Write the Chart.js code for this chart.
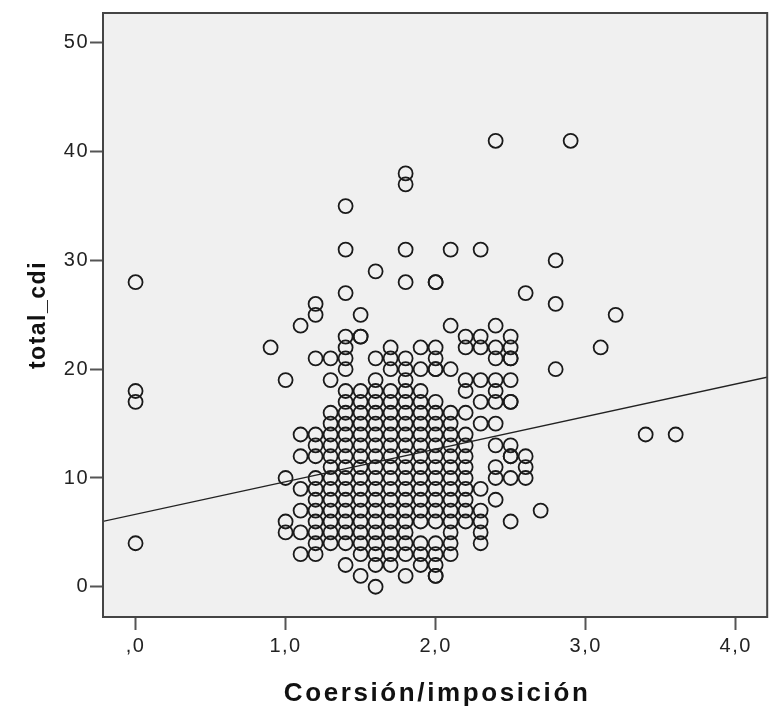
<!DOCTYPE html>
<html>
<head>
<meta charset="utf-8">
<script src="https://cdn.jsdelivr.net/npm/chart.js@4.4.1/dist/chart.umd.min.js"></script>
<style>
  html, body { margin: 0; padding: 0; background: #fff; overflow: hidden; }
  canvas { display: block; }
</style>
</head>
<body>
<canvas id="chart" width="776" height="709"></canvas>
<script>
// coersion score of each column of cases, and the total_cdi values observed there
const COERSION = [0.0, 0.9, 1.0, 1.1, 1.2, 1.3, 1.4, 1.5, 1.6, 1.7, 1.8, 1.9, 2.0, 2.1, 2.2, 2.3, 2.4, 2.5, 2.6, 2.7, 2.8, 2.9, 3.1, 3.2, 3.4, 3.6];
const TOTAL_CDI = [
  [28, 18, 17, 4],
  [22],
  [19, 10, 6, 5],
  [24, 14, 12, 9, 7, 5, 3],
  [26, 25, 21, 14, 13, 12, 10, 9, 8, 7, 6, 5, 4, 3],
  [21, 19, 16, 15, 14, 13, 12, 11, 10, 9, 8, 7, 6, 5, 4],
  [35, 31, 27, 23, 22, 21, 20, 18, 17, 16, 15, 14, 13, 12, 11, 10, 9, 8, 7, 6, 5, 4, 2],
  [25, 23, 23, 18, 17, 16, 15, 14, 13, 12, 11, 10, 9, 8, 7, 6, 5, 4, 3, 1],
  [29, 21, 19, 18, 17, 16, 15, 14, 13, 12, 11, 10, 9, 8, 7, 6, 5, 4, 3, 2, 0],
  [22, 21, 20, 18, 17, 16, 15, 14, 13, 12, 11, 10, 9, 8, 7, 6, 5, 4, 3, 2],
  [38, 37, 31, 28, 21, 20, 19, 18, 17, 16, 15, 14, 13, 12, 11, 10, 9, 8, 7, 6, 5, 4, 3, 1],
  [22, 20, 18, 17, 16, 15, 14, 13, 12, 11, 10, 9, 8, 7, 6, 4, 3, 2],
  [28, 28, 22, 21, 20, 20, 17, 16, 15, 14, 13, 12, 11, 10, 9, 8, 7, 6, 4, 3, 2, 1, 1],
  [31, 24, 20, 16, 15, 14, 13, 12, 11, 10, 9, 8, 7, 6, 5, 4, 3],
  [23, 22, 19, 18, 16, 14, 13, 12, 11, 10, 9, 8, 7, 6],
  [31, 23, 22, 19, 17, 15, 9, 7, 6, 5, 4],
  [41, 24, 22, 21, 19, 18, 17, 15, 13, 11, 10, 8],
  [23, 22, 21, 21, 19, 17, 17, 13, 12, 12, 10, 6],
  [27, 12, 11, 10],
  [7],
  [30, 26, 20],
  [41],
  [22],
  [25],
  [14],
  [14]
];

// fitted linear trend, taken at both ends of the x range
const FIT_X = [-0.22, 4.22];
const FIT_Y = [6.0, 19.3];

const X_TICKS = [0, 1, 2, 3, 4];
const Y_TICKS = [0, 10, 20, 30, 40, 50];
const X_RANGE = [-0.217, 4.21];
const Y_RANGE = [-2.78, 52.75];

const X_TITLE = 'Coersión/imposición';
const Y_TITLE = 'total_cdi';

const PLOT_BG = '#f0f0f0';
const INK = '#222';
const FONT = "'Liberation Sans', Arial, sans-serif";

const points = [];
COERSION.forEach((x, i) => TOTAL_CDI[i].forEach(y => points.push({ x, y })));
const fitLine = FIT_X.map((x, i) => ({ x, y: FIT_Y[i] }));

// spss style decimal comma, ",0" for zero
const fmtX = v => (v === 0 ? ',0' : v.toFixed(1).replace('.', ','));

const plotFrame = {
  id: 'plotFrame',
  beforeDraw(chart) {
    const { ctx, chartArea: a } = chart;
    ctx.save();
    ctx.fillStyle = '#fff';
    ctx.fillRect(0, 0, chart.width, chart.height);
    ctx.fillStyle = PLOT_BG;
    ctx.fillRect(a.left, a.top, a.right - a.left, a.bottom - a.top);
    ctx.restore();
    ctx.letterSpacing = '1.5px';
  },
  afterDraw(chart) {
    const { ctx, chartArea: a } = chart;
    ctx.save();
    ctx.strokeStyle = '#444';
    ctx.lineWidth = 2;
    ctx.strokeRect(a.left, a.top, a.right - a.left, a.bottom - a.top);

    ctx.fillStyle = '#111';
    ctx.font = `bold 26px ${FONT}`;
    ctx.textAlign = 'center';
    ctx.textBaseline = 'alphabetic';
    ctx.letterSpacing = '2.6px';
    ctx.fillText(X_TITLE, (a.left + a.right) / 2 + 2, 701);

    ctx.translate(45, (a.top + a.bottom) / 2);
    ctx.rotate(-Math.PI / 2);
    ctx.font = `bold 23px ${FONT}`;
    ctx.letterSpacing = '1.5px';
    ctx.fillText(Y_TITLE, 0, 0);
    ctx.restore();
  }
};

new Chart(document.getElementById('chart'), {
  type: 'scatter',
  data: {
    datasets: [
      {
        type: 'line',
        data: fitLine,
        borderColor: INK,
        borderWidth: 1.3,
        pointRadius: 0,
        fill: false,
        order: 0
      },
      {
        data: points,
        pointStyle: 'circle',
        pointRadius: 7,
        borderWidth: 1.8,
        borderColor: '#1a1a1a',
        backgroundColor: 'rgba(0,0,0,0)',
        order: 1
      }
    ]
  },
  options: {
    responsive: false,
    animation: false,
    layout: { padding: { top: 10, left: 0, right: 0, bottom: 0 } },
    plugins: { legend: { display: false }, tooltip: { enabled: false } },
    scales: {
      x: {
        type: 'linear',
        min: X_RANGE[0],
        max: X_RANGE[1],
        afterBuildTicks: s => { s.ticks = X_TICKS.map(value => ({ value })); },
        afterFit: s => { s.height = 92; },
        border: { display: false },
        grid: { drawOnChartArea: false, drawTicks: true, tickLength: 13, tickWidth: 2, tickColor: '#555' },
        ticks: { color: INK, font: { family: FONT, size: 20 }, padding: 4, maxRotation: 0, callback: fmtX }
      },
      y: {
        type: 'linear',
        min: Y_RANGE[0],
        max: Y_RANGE[1],
        afterBuildTicks: s => { s.ticks = Y_TICKS.map(value => ({ value })); },
        afterFit: s => { s.width = 103; },
        border: { display: false },
        grid: { drawOnChartArea: false, drawTicks: true, tickLength: 13, tickWidth: 2, tickColor: '#555' },
        ticks: { color: INK, font: { family: FONT, size: 20 }, padding: 1 }
      }
    }
  },
  plugins: [plotFrame]
});
</script>
</body>
</html>
